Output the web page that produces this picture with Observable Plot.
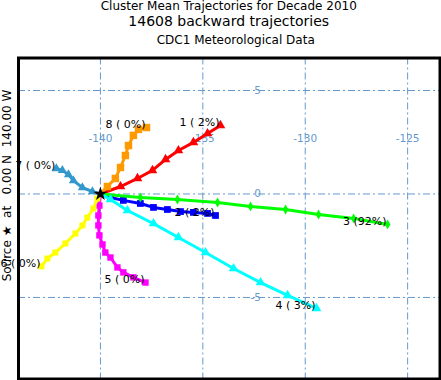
<!DOCTYPE html>
<html><head><meta charset="utf-8">
<script src="https://cdn.jsdelivr.net/npm/d3@7"></script>
<script src="https://cdn.jsdelivr.net/npm/@observablehq/plot@0.6"></script>
<style>
body{margin:0;background:#fff;font-family:"DejaVu Sans",sans-serif;}
#wrap{position:relative;width:441px;height:380px;overflow:hidden;background:#fff;}
.t{position:absolute;left:18px;width:421.5px;text-align:center;white-space:nowrap;color:#000;box-sizing:border-box;}
#t1{top:0;font-size:12px;line-height:12px;}
#t2{top:14px;font-size:14px;line-height:14px;}
#t3{top:34px;font-size:12px;line-height:12px;padding-left:14px;}
#chart{position:absolute;top:50px;left:0;}
</style></head>
<body>
<div id="wrap">
  <div class="t" id="t1">Cluster Mean Trajectories for Decade 2010</div>
  <div class="t" id="t2">14608 backward trajectories</div>
  <div class="t" id="t3">CDC1 Meteorological Data</div>
  <div id="chart"></div>
</div>
<script>
// ---- data ----
const lonTicks = [-140, -135, -130, -125];
const latTicks = [5, 0, -5];
const sourcePoint = [-140, 0];
const axisTitle = "Source \u2605 \u00a0at \u00a0\u00a00.00 N \u00a0140.00 W";
const clusterIds = [1, 2, 3, 4, 5, 6, 7, 8];
const clusterPct = [2, 2, 92, 3, 0, 0, 0, 0];

const traj1 = [[-140,0],[-139.02,0.36],[-138.19,0.75],[-137.46,1.14],[-136.82,1.67],[-136.19,2.10],[-135.46,2.49],[-134.77,2.92],[-134.14,3.31]];
const traj2 = [[-140,0],[-139.51,-0.17],[-138.88,-0.31],[-138.05,-0.46],[-137.41,-0.65],[-136.73,-0.75],[-136.09,-0.85],[-135.46,-0.89],[-134.77,-0.94],[-134.38,-1.04]];
const traj3 = [[-140,0],[-138.05,-0.17],[-136.24,-0.27],[-134.28,-0.41],[-132.67,-0.60],[-130.96,-0.75],[-129.35,-0.99],[-127.64,-1.18],[-125.98,-1.47]];
const traj4 = [[-140,0],[-139.51,-0.27],[-138.68,-0.80],[-137.41,-1.43],[-136.19,-2.10],[-134.87,-2.83],[-133.50,-3.60],[-132.18,-4.28],[-130.86,-4.90],[-129.45,-5.53]];
const traj5 = [[-140,0],[-140.05,-0.56],[-140.10,-1.04],[-140.10,-1.52],[-140.05,-2.00],[-139.90,-2.44],[-139.76,-2.83],[-139.51,-3.07],[-139.17,-3.55],[-138.88,-3.79],[-138.39,-4.03],[-137.80,-4.28]];
const traj6 = [[-140,0],[-140.15,-0.22],[-140.34,-0.70],[-140.64,-1.14],[-140.88,-1.52],[-141.22,-1.91],[-141.71,-2.39],[-142.20,-2.83],[-142.59,-3.12],[-142.88,-3.50]];
const traj7 = [[-140,0],[-140.39,0.12],[-140.88,0.31],[-141.32,0.65],[-141.56,0.94],[-141.86,1.14],[-142.15,1.23]];
const traj8 = [[-140,0],[-139.66,0.36],[-139.27,0.75],[-139.02,1.28],[-138.78,1.86],[-138.63,2.34],[-138.39,2.83],[-138.14,3.12],[-137.75,3.21]];

// ---- styles ----
const trajs = [traj1, traj2, traj3, traj4, traj5, traj6, traj7, traj8];
const colors = ["#ff0000", "#0000ff", "#00ff00", "#00ffff", "#ff00ff", "#ffff00", "#3399cc", "#ff9900"];
const symbols = ["triangle", "square", "diamond", "triangle", "square", "square", "triangle", "square"];
const symR = [3.6, 3.8, 3, 3.6, 3.6, 3.4, 3.4, 4.2];
const gridColor = "#6699cc";
const lonLabelLat = 2.68;
const latLabelLon = -132.16;

const marks = [
  Plot.gridX(lonTicks, {stroke: gridColor, strokeOpacity: 1, strokeWidth: 1, strokeDasharray: "7,3,2,3"}),
  Plot.gridY(latTicks, {stroke: gridColor, strokeOpacity: 1, strokeWidth: 1, strokeDasharray: "7,3,2,3"}),
  Plot.text(lonTicks, {x: d => d, y: () => lonLabelLat, text: d => String(d), fill: gridColor, fontSize: 10.5}),
  Plot.text(latTicks, {x: () => latLabelLon, y: d => d, text: d => String(d), fill: gridColor, fontSize: 10.5, textAnchor: "end"})
];

clusterIds.forEach((id, i) => {
  const t = trajs[i];
  marks.push(Plot.line(t, {x: d => d[0], y: d => d[1], stroke: colors[i], strokeWidth: 3}));
  marks.push(Plot.dot(t.slice(1), {x: d => d[0], y: d => d[1], fill: colors[i], stroke: "none", symbol: symbols[i], r: symR[i]}));
});

const labelRows = clusterIds.map((id, i) => ({
  lon: trajs[i][trajs[i].length - 1][0],
  lat: trajs[i][trajs[i].length - 1][1],
  text: `${id} (${String(clusterPct[i]).padStart(2, "\u00a0")}%)`
}));

marks.push(Plot.dot([sourcePoint], {x: d => d[0], y: d => d[1], symbol: "star", fill: "black", r: 4.5}));
marks.push(Plot.text(labelRows, {x: "lon", y: "lat", text: "text", textAnchor: "end", dx: -1, dy: -3, fontSize: 11, fill: "black"}));
marks.push(Plot.frame({stroke: "black", strokeWidth: 3}));
marks.push(Plot.text([axisTitle], {frameAnchor: "left", textAnchor: "middle", rotate: -90, dx: -11, dy: -33, fontSize: 12, fill: "black"}));

const chart = Plot.plot({
  width: 441,
  height: 330,
  marginTop: 7.5,
  marginBottom: 1.5,
  marginLeft: 18,
  marginRight: 1.5,
  style: {fontFamily: "DejaVu Sans", background: "white", overflow: "visible"},
  x: {domain: [-144.0, -123.42], axis: null},
  y: {domain: [-8.94, 6.57], axis: null},
  marks
});
document.getElementById("chart").appendChild(chart);
</script>
</body></html>
